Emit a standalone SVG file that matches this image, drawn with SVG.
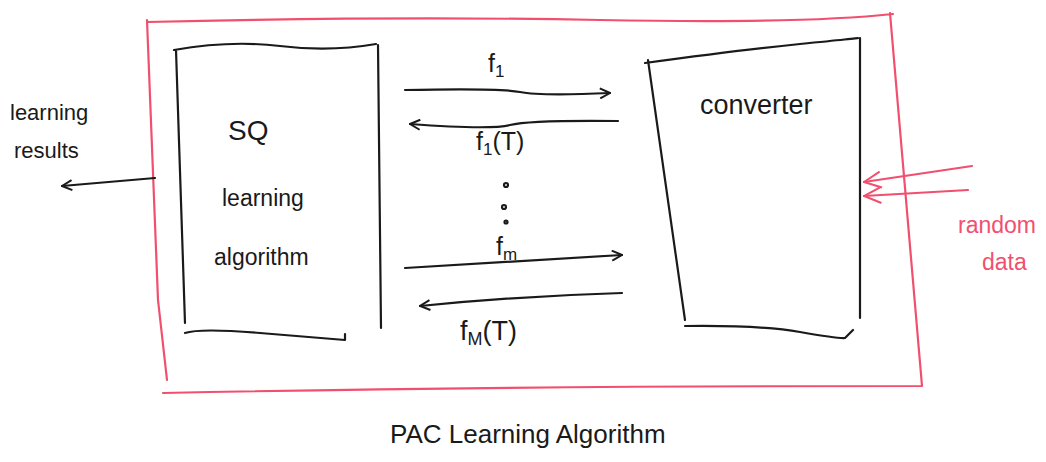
<svg xmlns="http://www.w3.org/2000/svg" width="1046" height="462" viewBox="0 0 1046 462">
<style>
.ink{fill:none;stroke:#1a1a1a;stroke-width:2.2;stroke-linecap:round;stroke-linejoin:round}
.red{fill:none;stroke:#f0506e;stroke-width:2.2;stroke-linecap:round;stroke-linejoin:round}
.t{font-family:"Liberation Sans",Arial,sans-serif;font-size:22px;fill:#1a1a1a}
.tr{font-family:"Liberation Sans",Arial,sans-serif;font-size:23px;fill:#f0506e}
</style>
<defs>
<marker id="ah" viewBox="0 0 12 12" refX="11" refY="6" markerWidth="12" markerHeight="12" markerUnits="userSpaceOnUse" orient="auto">
<path d="M1,1 L11,6 L1,11" fill="none" stroke="#1a1a1a" stroke-width="2"/>
</marker>
<marker id="ahr" viewBox="0 0 20 20" refX="19" refY="10" markerWidth="20" markerHeight="20" markerUnits="userSpaceOnUse" orient="auto">
<path d="M2,2 L19,10 L2,18" fill="none" stroke="#f0506e" stroke-width="2"/>
</marker>
</defs>
<rect width="1046" height="462" fill="#fff"/>
<g id="pac">
<path class="red" d="M147,22 Q400,16 600,20 T893,14 M147,20 L158,300 L167,380 M163,393 Q500,386 922,386 M890,13 L922,386"/>
<text class="t" x="390" y="443" style="font-size:26px">PAC Learning Algorithm</text>
</g>
<g id="sq">
<path class="ink" d="M174,50 Q230,40 280,46 T376,44 M176,50 L185,323 M378,45 L381,328 M185,333 Q200,328 260,333 T345,340 L345,334"/>
<text class="t" x="228" y="140" style="font-size:28px">SQ</text>
<text class="t" x="222" y="206" style="font-size:23px">learning</text>
<text class="t" x="214" y="265" style="font-size:23px">algorithm</text>
</g>
<g id="converter">
<path class="ink" d="M645,63 Q740,50 800,44 T858,38 M648,60 L685,320 M860,38 L860,318 M685,326 Q760,325 800,332 T845,338 L853,330"/>
<text class="t" x="700" y="114" style="font-size:27px">converter</text>
</g>
<g id="random">
<text class="tr" x="958" y="233">random</text>
<text class="tr" x="982" y="270">data</text>
</g>
<g id="results">
<text class="t" x="10" y="120">learning</text>
<text class="t" x="14" y="158">results</text>
</g>
<g id="connectors">
<path class="ink" d="M155,178 L62,186" marker-end="url(#ah)"/>
<path class="ink" d="M405,90 Q500,88 520,92 T610,93" marker-end="url(#ah)"/>
<path class="ink" d="M618,121 Q530,120 510,125 T410,124" marker-end="url(#ah)"/>
<path class="ink" d="M405,268 Q500,262 622,255" marker-end="url(#ah)"/>
<path class="ink" d="M622,293 Q520,296 420,306" marker-end="url(#ah)"/>
<circle cx="506" cy="185" r="2" class="ink"/>
<circle cx="504" cy="207" r="2" class="ink"/>
<circle cx="506" cy="222" r="1.5" class="ink"/>
<path class="red" d="M972,166 L864,182" marker-end="url(#ahr)"/>
<path class="red" d="M968,190 L864,196" marker-end="url(#ahr)"/>
<text class="t" x="488" y="72" style="font-size:25px">f<tspan style="font-size:17px" dy="5">1</tspan></text>
<text class="t" x="476" y="150" style="font-size:25px">f<tspan style="font-size:17px" dy="5">1</tspan><tspan dy="-5">(T)</tspan></text>
<text class="t" x="496" y="255" style="font-size:25px">f<tspan style="font-size:17px" dy="5">m</tspan></text>
<text class="t" x="460" y="340" style="font-size:27px">f<tspan style="font-size:18px" dy="5">M</tspan><tspan dy="-5">(T)</tspan></text>
</g>
</svg>
